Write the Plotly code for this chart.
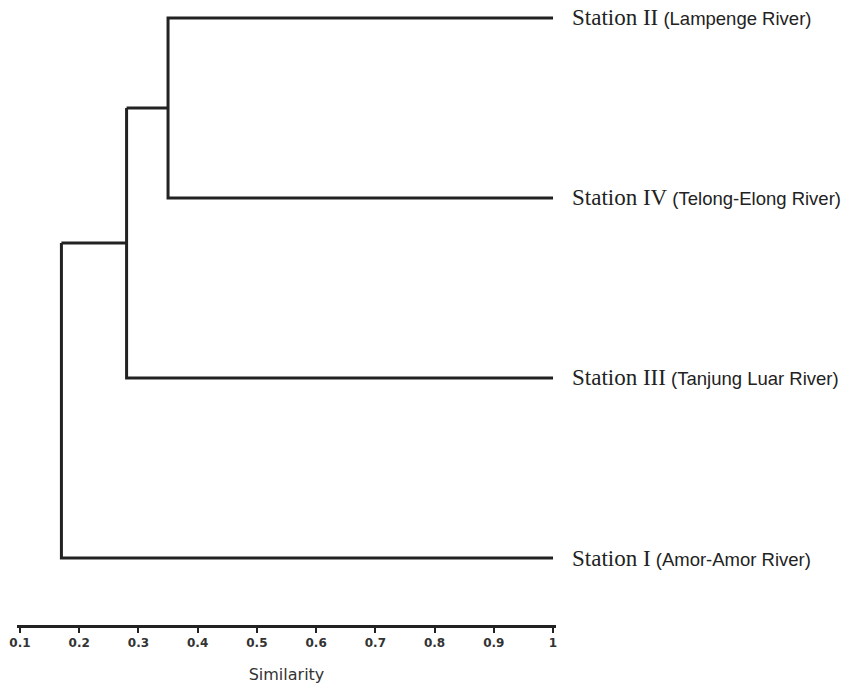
import plotly.graph_objects as go

# ---- data ----
station_names = ["Station I", "Station III", "Station IV", "Station II"]   # bottom -> top
river_names = ["(Amor-Amor River)", "(Tanjung Luar River)", "(Telong-Elong River)", "(Lampenge River)"]
# merges (similarity): II+IV, (II,IV)+III, all+I
merge_ii_iv = 0.35
merge_with_iii = 0.28
merge_with_i = 0.17
leaf_similarity = 1.0
tick_vals = [0.1, 0.2, 0.3, 0.4, 0.5, 0.6, 0.7, 0.8, 0.9, 1]
tick_text = ["0.1", "0.2", "0.3", "0.4", "0.5", "0.6", "0.7", "0.8", "0.9", "1"]

# leaf positions
pos = {name: i for i, name in enumerate(station_names)}
y_I, y_III, y_IV, y_II = pos["Station I"], pos["Station III"], pos["Station IV"], pos["Station II"]

y_a = (y_II + y_IV) / 2
y_b = (y_a + y_III) / 2

xs, ys = [], []
def seg(x, y):
    xs.extend(x + [None]); ys.extend(y + [None])

# cluster II + IV
seg([leaf_similarity, merge_ii_iv, merge_ii_iv, leaf_similarity], [y_II, y_II, y_IV, y_IV])
# + III
seg([merge_ii_iv, merge_with_iii], [y_a, y_a])
seg([leaf_similarity, merge_with_iii, merge_with_iii], [y_III, y_III, y_a])
# + I
seg([merge_with_iii, merge_with_i], [y_b, y_b])
seg([leaf_similarity, merge_with_i, merge_with_i], [y_I, y_I, y_b])

fig = go.Figure()
fig.add_trace(go.Scatter(x=xs, y=ys, mode="lines",
                         line=dict(color="#222222", width=3),
                         hoverinfo="skip", showlegend=False, cliponaxis=False))

for name, river in zip(station_names, river_names):
    fig.add_annotation(
        x=1.0265, y=pos[name], xref="paper", yref="y", xanchor="left", yanchor="middle",
        showarrow=False,
        text=("<span style='font-family:\"Liberation Serif\", serif;font-size:23px'>" + name +
              "</span> " + river),
        font=dict(family="Liberation Sans, Arial, sans-serif", size=18.5, color="#222222"),
    )

fig.update_layout(
    width=845, height=684,
    margin=dict(l=17, r=289, t=10, b=59, autoexpand=False),
    paper_bgcolor="white", plot_bgcolor="white",
    xaxis=dict(range=[0.095, 1.005], tickvals=tick_vals, ticktext=tick_text,
               automargin=False,
               showgrid=False, zeroline=False, showline=True, linecolor="#222222",
               linewidth=3, ticks="outside", ticklen=5, tickwidth=2, tickcolor="#222222",
               tickfont=dict(family="DejaVu Sans", size=12, color="#333333", weight="bold"),
               title=dict(text="Similarity", standoff=20,
                          font=dict(family="DejaVu Sans", size=16, color="#333333"))),
    yaxis=dict(range=[-0.372, 3.044], visible=False, showgrid=False, zeroline=False,
               automargin=False),
)

fig.write_html("out.html", config={"displayModeBar": False},
               post_script="document.body.style.margin='0';")
